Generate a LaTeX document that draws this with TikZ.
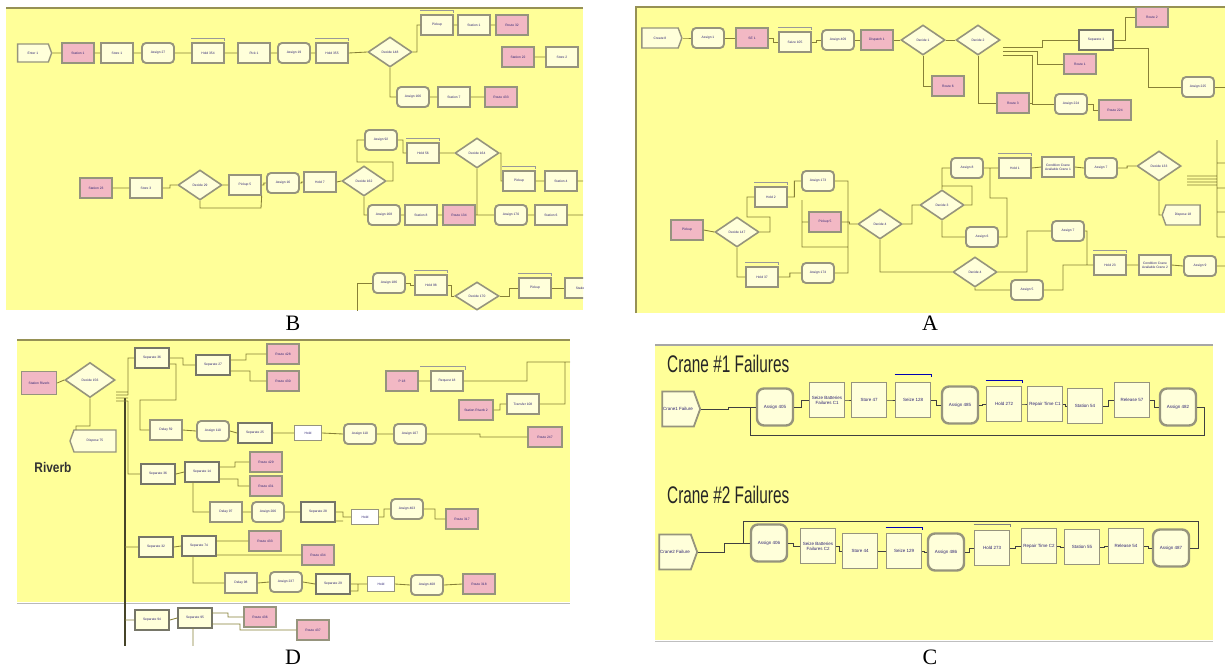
\documentclass[tikz,border=0pt]{standalone}
\usepackage{fontspec}
\setmainfont{Liberation Sans}
\newfontfamily\lserif{Liberation Serif}
\usetikzlibrary{shapes.geometric,shapes.symbols,calc}
\definecolor{bgY}{RGB}{255,255,153}
\definecolor{cream}{RGB}{255,255,218}
\definecolor{pinkM}{RGB}{242,184,196}
\definecolor{edgeG}{RGB}{150,148,125}
\definecolor{sepG}{RGB}{118,118,104}
\definecolor{wireC}{RGB}{135,128,55}
\definecolor{txtB}{RGB}{45,35,115}
\definecolor{frameO}{RGB}{150,145,85}
\definecolor{heavyC}{RGB}{70,68,40}
\newcommand{\holdbar}[3][gray!80]{\draw[#1, line width=0.7pt] ([yshift=#3]#2.north west) -- ([yshift=#3]#2.north east) -- ++(0,-2.5pt);}
\tikzset{
  mod/.style={draw=edgeG, line width=1.4pt, fill=cream, text=txtB, font=\fontsize{3.3}{3.8}\selectfont, inner sep=0.5pt, align=center, minimum width=32pt, minimum height=20pt},
  box/.style={mod, rectangle},
  pbox/.style={mod, rectangle, fill=pinkM},
  wbox/.style={mod, rectangle, fill=white, minimum width=27pt, minimum height=15pt},
  asg/.style={mod, rectangle, rounded corners=4pt, line width=1.9pt},
  sepb/.style={mod, rectangle, line width=1.9pt, draw=sepG, minimum width=34pt},
  dec/.style={mod, diamond, minimum width=44pt, minimum height=30pt, line width=1.6pt, inner sep=0pt},
  crt/.style={mod, signal, signal to=east, signal pointer angle=140},
  disp/.style={mod, signal, signal to=west, signal pointer angle=140},
  boxC/.style={box, minimum width=35pt, minimum height=35pt, line width=1.8pt, font=\fontsize{4.5}{5}\selectfont},
  asgC/.style={asg, minimum width=36pt, minimum height=37pt, rounded corners=7pt, line width=2.4pt, font=\fontsize{4.5}{5}\selectfont},
  wire/.style={draw=wireC, line width=0.85pt},
  stepto/.style={to path={-| ($(\tikztostart)!.5!(\tikztotarget)$) |- (\tikztotarget)}},
  plabel/.style={font=\lserif\fontsize{22}{22}\selectfont, text=black}
}
\begin{document}
\begin{tikzpicture}[x=1pt,y=-1pt]
\useasboundingbox (0,0) rectangle (1225,670);
\fill[white] (0,0) rectangle (1225,670);

% ================= Panel B =================
\fill[bgY] (6,8) rectangle (583,310);
\draw[frameO, line width=1.3pt] (6,8) -- (583,8);
\begin{scope}
\clip (6,8) rectangle (583,310);
\node[crt, minimum width=34pt, minimum height=18pt] (b1) at (33,53) {Enter 1};
\node[pbox] (b2) at (78,53) {Station 1};
\node[box] (b3) at (117,53) {Store 1};
\node[asg] (b4) at (158,53) {Assign 27};
\node[box] (b5) at (208,53) {Hold 354};
\node[box] (b6) at (254,53) {Pick 1};
\node[asg] (b7) at (294,53) {Assign 19};
\node[box] (b8) at (332,53) {Hold 355};
\node[dec] (b9) at (390,52) {Decide 148};
\node[box] (b10) at (437,25) {Pickup};
\node[box] (b11) at (474,25) {Station 1};
\node[pbox] (b12) at (512,25) {Route 32};
\node[pbox] (b13) at (518,57) {Station 22};
\node[box] (b14) at (562,57) {Store 2};
\node[asg] (b15) at (413,97) {Assign 166};
\node[box] (b16) at (454,97) {Station 7};
\node[pbox] (b17) at (501,97) {Route 433};
\holdbar{b5}{3.5pt} \holdbar{b8}{3.5pt} \holdbar{b10}{3.5pt}
\draw[wire] (b1.east)--(b2.west) (b2.east)--(b3.west) (b3.east)--(b4.west) (b4.east)--(b5.west)
  (b5.east)--(b6.west) (b6.east)--(b7.west) (b7.east)--(b8.west) (b8.east)--(b9.west)
  (b9.east) -- (417,52) |- (b10.west) (b10.east)--(b11.west) (b11.east)--(b12.west) (b13.east)--(b14.west)
  (b9.south) |- (b15.west) (b15.east) to[stepto] (b16.west) (b16.east) to[stepto] (b17.west);

\node[pbox] (b20) at (96,188) {Station 23};
\node[box] (b21) at (146,188) {Store 3};
\node[dec] (b22) at (200,185) {Decide 29};
\node[box] (b23) at (245,185) {Pickup 5};
\node[asg] (b24) at (283,183) {Assign 16};
\node[box] (b25) at (320,182) {Hold 7};
\node[dec] (b26) at (364,181) {Decide 162};
\node[asg] (b27) at (381,140) {Assign 92};
\node[box] (b28) at (423,153) {Hold 56};
\node[dec] (b29) at (477,153) {Decide 164};
\node[box] (b30) at (519,181) {Pickup};
\node[box] (b31) at (561,181) {Station 4};
\node[asg] (b32) at (384,215) {Assign 168};
\node[box] (b33) at (421,215) {Station 8};
\node[pbox] (b34) at (459,215) {Route 134};
\node[asg] (b35) at (511,215) {Assign 170};
\node[box] (b36) at (551,215) {Station 6};
\holdbar{b28}{3.5pt} \holdbar{b30}{3.5pt}
\draw[wire] (b20.east)--(b21.west) (b21.east) to[stepto] (b22.west) (b22.east)--(b23.west)
  (b23.east) to[stepto] (b24.west) (b22.south) |- (261,208) -- (b23.south east)
  (b24.east) to[stepto] (b25.west) (b25.east)--(b26.west)
  (b26.east) -- (393,181) -- (393,162) -- (357,162) |- (b27.west)
  (b27.east) -- (403,140) |- (b28.west) (b28.east)--(b29.west)
  (b29.east) -- (501,153) |- (b30.west) (b30.east)--(b31.west) (b31.east)--(590,181)
  (b26.south) |- (b32.west) (b32.east)--(b33.west) (b33.east)--(b34.west) (b34.east)--(b35.west)
  (b35.east)--(b36.west) (b36.east)--(590,215) (b29.south) -- (477,215);

\node[asg] (b40) at (389,283) {Assign 186};
\node[box] (b41) at (431,285) {Hold 98};
\node[dec, minimum height=28pt] (b42) at (477,296) {Decide 170};
\node[box] (b43) at (535,288) {Pickup};
\node[box] (b44) at (581,288) {Station};
\holdbar{b41}{3.5pt} \holdbar{b43}{3.5pt}
\draw[wire] (b40.west) -- (357,283) -- (357,315) (b40.east) to[stepto] (b41.west)
  (b41.east) to[stepto] (b42.west) (b42.east) to[stepto] (b43.west) (b43.east) -- (b44.west);
\end{scope}

% ================= Panel A =================
\fill[bgY] (636,7) rectangle (1225,313);
\draw[frameO, line width=1.3pt] (636,313) -- (636,7) -- (1225,7);
\begin{scope}
\clip (636,7) rectangle (1225,313);
\node[crt, minimum width=40pt] (a1) at (660,38) {Create 8};
\node[asg] (a2) at (708,38) {Assign 1};
\node[pbox] (a3) at (752,38) {SE 1};
\node[box] (a4) at (795,42) {Seize 105};
\node[asg] (a5) at (838,40) {Assign 409};
\node[pbox] (a6) at (877,40) {Dispatch 1};
\node[dec] (a7) at (923,40) {Decide 1};
\node[dec] (a8) at (978,40) {Decide 2};
\node[pbox] (a9) at (948,86) {Route 6};
\node[pbox] (a10) at (1152,17) {Route 2};
\node[sepb] (a11) at (1096,40) {Separate 1};
\node[pbox] (a12) at (1080,64) {Route 1};
\node[pbox] (a13) at (1013,103) {Route 3};
\node[asg] (a14) at (1071,104) {Assign 224};
\node[pbox] (a15) at (1115,110) {Route 224};
\node[asg] (a16) at (1198,87) {Assign 225};
\holdbar{a4}{3.5pt}
\draw[wire] (a1.east) to[stepto] (a2.west) (a2.east)--(a3.west) (a3.east) to[stepto] (a4.west)
  (a4.east) to[stepto] (a5.west) (a5.east)--(a6.west) (a6.east)--(a7.west) (a7.east)--(a8.west)
  (a7.south) |- (a9.west) (a8.south) |- (a13.west)
  (1003,47) -| (1042,40) -- (a11.west)
  (1003,51) -| (1037,64) -- (a12.west)
  (1003,55) -| (1032,104) -- (a14.west) (a13.east) -- (1032,103)
  (a11.east) -- (1125,40) |- (a10.west)
  (1114,48) -- (1148,48) |- (a16.west)
  (a14.east) to[stepto] (a15.west) (a16.east) -- (1230,87);

\node[pbox] (a20) at (687,230) {Pickup};
\node[dec] (a21) at (737,232) {Decide 147};
\node[box] (a22) at (771,197) {Hold 2};
\node[asg] (a23) at (818,181) {Assign 173};
\node[pbox] (a24) at (825,222) {Pickup 5};
\node[box] (a25) at (762,277) {Hold 37};
\node[asg] (a26) at (818,273) {Assign 174};
\node[dec] (a27) at (880,224) {Decide 4};
\holdbar{a22}{3.5pt} \holdbar{a25}{3.5pt}
\node[dec] (a28) at (942,205) {Decide 3};
\node[asg] (a29) at (967,168) {Assign 8};
\node[box] (a30) at (1015,168) {Hold 1};
\node[box] (a31) at (1058,167) {Condition Crane\\Available Crane 1};
\node[asg] (a32) at (1101,168) {Assign 7};
\node[dec] (a33) at (1159,166) {Decide 133};
\node[disp, minimum width=38pt] (a34) at (1183,215) {Dispose 18};
\node[asg] (a35) at (982,237) {Assign 6};
\node[dec] (a36) at (975,272) {Decide 4};
\node[asg] (a37) at (1068,231) {Assign 7};
\node[asg] (a38) at (1027,290) {Assign 5};
\node[box] (a39) at (1110,265) {Hold 23};
\node[box] (a40) at (1155,265) {Condition Crane\\Available Crane 2};
\node[asg] (a41) at (1200,266) {Assign 9};
\holdbar{a30}{3.5pt} \holdbar{a39}{3.5pt}
\draw[wire] (a20.east)--(a21.west)
  (a21.east) -- (770,232) -- (770,217) -- (747,217) |- (a22.west)
  (a22.east) to[stepto] (a23.west)
  (a23.east) -- (848,181) -- (848,247) -- (802,247) |- (a24.west) (802,200) -- (802,222)
  (a21.south) |- (a25.west) (a25.east) to[stepto] (a26.west) (a26.east) -- (848,273) -- (848,247)
  (a24.east) to[stepto] (a27.west)
  (a27.east) -- (912,224) |- (a28.west)
  (a28.north) |- (a29.west) (a28.east) -- (972,205) |- (942,186)
  (a28.south) |- (a35.west)
  (a35.east) -- (1007,237) -- (1007,198) -- (990,198) -- (990,168)
  (a29.east)--(a30.west) (a30.east)--(a31.west) (a31.east)--(a32.west) (a32.east) to[stepto] (a33.west)
  (a33.south) |- (a34.west)
  (1187,176)--(1217,176) (1187,179)--(1217,179) (1187,182)--(1217,182) (1187,185)--(1217,185)
  (1217,140)--(1217,237) (1217,163)--(1226,163) (1217,188)--(1226,188) (1217,212)--(1226,212) (1217,237)--(1226,237)
  (a27.south) |- (a36.west)
  (a36.east) -- (1027,272) |- (a37.west)
  (a36.south) |- (a38.west)
  (a38.east) -- (1063,290) |- (a39.west)
  (a37.east) -- (1087,231) -- (1087,265)
  (a39.east)--(a40.west) (a40.east)--(a41.west) (a41.east)--(1230,266);
\end{scope}

% ================= Panel D =================
\fill[bgY] (17,340) rectangle (570,602);
\draw[frameO, line width=1.3pt] (17,340) -- (570,340);
\draw[gray!55, line width=0.8pt] (17,603) -- (570,603);
\begin{scope}
\clip (0,338) rectangle (570,645);
\node[pbox, minimum width=35pt, minimum height=23pt] (d1) at (39,383) {Station Riverb};
\node[dec, minimum width=50pt, minimum height=35pt] (d2) at (90,380) {Decide 156};
\node[disp, minimum width=46pt, minimum height=22pt] (d3) at (95,441) {Dispose 75};
\node[font=\bfseries\fontsize{14}{14}\selectfont, text=black!80] (riv) at (53,467) {\scalebox{0.85}[1]{Riverb}};
\node[sepb] (d4) at (152,358) {Separate 36};
\node[sepb] (d5) at (213,365) {Separate 27};
\node[pbox] (d6) at (283,354) {Route 428};
\node[pbox] (d7) at (283,381) {Route 430};
\node[box] (d8) at (166,430) {Delay 59};
\node[asg] (d9) at (213,431) {Assign 110};
\node[sepb] (d10) at (255,433) {Separate 25};
\node[wbox] (d11) at (308,433) {Hold};
\node[asg] (d12) at (360,434) {Assign 110};
\node[asg] (d13) at (410,434) {Assign 107};
\node[pbox, minimum width=34pt] (d14) at (545,437) {Route 247};
\node[pbox] (d15) at (402,381) {P 18};
\node[box] (d16) at (447,381) {Request 18};
\node[pbox, minimum width=34pt] (d17) at (476,410) {Station Riverb 2};
\node[box] (d18) at (523,404) {Transfer 108};
\node[sepb] (d19) at (158,474) {Separate 36};
\node[sepb] (d20) at (202,472) {Separate 14};
\node[pbox] (d21) at (266,462) {Route 429};
\node[pbox] (d22) at (266,486) {Route 431};
\node[box] (d23) at (226,512) {Delay 97};
\node[asg] (d24) at (268,512) {Assign 206};
\node[sepb] (d25) at (318,512) {Separate 28};
\node[wbox] (d26) at (365,517) {Hold};
\node[asg] (d27) at (407,509) {Assign 403};
\node[pbox] (d28) at (462,519) {Route 317};
\node[sepb] (d29) at (156,547) {Separate 32};
\node[sepb] (d30) at (199,546) {Separate 74};
\node[pbox] (d31) at (265,541) {Route 433};
\node[pbox] (d32) at (318,555) {Route 434};
\node[box] (d33) at (241,583) {Delay 98};
\node[asg] (d34) at (286,582) {Assign 237};
\node[sepb] (d35) at (333,584) {Separate 29};
\node[wbox] (d36) at (381,584) {Hold};
\node[asg] (d37) at (427,585) {Assign 408};
\node[pbox] (d38) at (479,584) {Route 318};
\node[sepb] (d39) at (152,620) {Separate 94};
\node[sepb] (d40) at (195,618) {Separate 95};
\node[pbox] (d41) at (260,617) {Route 436};
\node[pbox] (d42) at (313,630) {Route 437};
\draw[gray!80, line width=0.7pt] (420,366) -- (465,366) -- (465,370);
\draw[heavyC, line width=1.7pt] (125,398) -- (125,648);
\draw[wire] (d1.east)--(d2.west)
  (d2.south) -- (90,426) -- (76,426) -- (76,430)
  (116,392)--(128,392) (116,395)--(128,395) (116,398)--(128,398) (116,401)--(128,401)
  (128,395) |- (d4.west) (128,401) |- (d19.west)
  (125,547) -- (d29.west) (125,620) -- (d39.west)
  (d4.east) -- (183,358) |- (d5.west)
  (169,364) -- (176,364) -- (176,400) -- (140,400) |- (d8.west)
  (230,360) -- (246,360) |- (d6.west) (230,371) -- (250,371) |- (d7.west)
  (d8.east)--(d9.west) (d9.east)--(d10.west) (d10.east)--(d11.west) (d11.east)--(d12.west)
  (d12.east)--(d13.west) (d13.east) -- (480,434) -- (480,437) -- (d14.west)
  (d15.east)--(d16.west) (d16.east) -- (527,381) -- (527,362) -- (575,362)
  (d17.east) to[stepto] (d18.west) (d18.east) -- (565,404) -- (565,362)
  (d19.east)--(d20.west)
  (219,467) -- (235,467) |- (d21.west) (219,479) -- (238,479) |- (d22.west)
  (193,482) |- (d23.west)
  (d23.east)--(d24.west) (d24.east)--(d25.west) (d25.east) -- (343,512) |- (d26.west) (335,521) -- (343,521)
  (d26.east) -- (384,517) |- (d27.west) (d27.east) -- (435,509) |- (d28.west)
  (d29.east)--(d30.west) (216,541) -- (d31.west) (216,555) -- (d32.west)
  (193,556) |- (d33.west)
  (d33.east)--(d34.west) (d34.east)--(d35.west) (d35.east)--(d36.west) (350,591) -- (358,591) -- (358,584)
  (d36.east)--(d37.west) (d37.east)--(d38.west)
  (d39.east)--(d40.west) (212,613) -- (228,613) |- (d41.west) (212,624) -- (240,624) |- (d42.west)
  (193,628) -- (193,650);
\end{scope}

% ================= Panel C =================
\fill[bgY] (655,345) rectangle (1213,640);
\draw[gray!70, line width=1.4pt] (655,345) -- (1213,345);
\draw[gray!50, line width=1pt] (655,641) -- (1213,641);
\node[anchor=base west, font=\fontsize{24}{24}\selectfont, text=black!85, inner sep=0pt] (t1) at (667,372) {\scalebox{0.64}[1]{Crane \#1 Failures}};
\node[anchor=base west, font=\fontsize{24}{24}\selectfont, text=black!85, inner sep=0pt] (t2) at (667,503) {\scalebox{0.64}[1]{Crane \#2 Failures}};

\node[crt, minimum width=38pt, minimum height=35pt, line width=1.8pt, font=\fontsize{4.5}{5}\selectfont] (c1) at (678,409) {Crane1 Failure};
\node[asgC] (c2) at (775,407) {Assign 405};
\node[boxC] (c3) at (827,400) {Seize Batteries\\Failures C1};
\node[boxC] (c4) at (869,400) {Store 47};
\node[boxC] (c5) at (913,400) {Seize 128};
\node[asgC] (c6) at (960,405) {Assign 485};
\node[boxC] (c7) at (1004,404) {Hold 272};
\node[boxC] (c8) at (1045,404) {Repair Time C1};
\node[boxC] (c9) at (1085,406) {Station 54};
\node[boxC] (c10) at (1132,400) {Release 57};
\node[asgC] (c11) at (1178,407) {Assign 482};
\holdbar[blue!70!black]{c5}{7.5pt} \holdbar[blue!70!black]{c7}{5.5pt}
\draw[wire, draw=black!75] (c1.east) -- (728,409) -- (728,407) -- (c2.west)
  (c11.east) -- (1204,407) -- (1204,435) -- (750,435) -- (750,407)
  (c2.east) to[stepto] (c3.west) (c3.east) to[stepto] (c4.west) (c4.east) to[stepto] (c5.west)
  (c5.east) to[stepto] (c6.west) (c6.east) to[stepto] (c7.west) (c7.east) to[stepto] (c8.west)
  (c8.east) to[stepto] (c9.west) (c9.east) to[stepto] (c10.west) (c10.east) to[stepto] (c11.west);

\node[crt, minimum width=38pt, minimum height=35pt, line width=1.8pt, font=\fontsize{4.5}{5}\selectfont] (c20) at (675,552) {Crane2 Failure};
\node[asgC] (c21) at (769,543) {Assign 406};
\node[boxC] (c22) at (818,546) {Seize Batteries\\Failures C2};
\node[boxC] (c23) at (860,551) {Store 44};
\node[boxC] (c24) at (904,551) {Seize 129};
\node[asgC] (c25) at (946,552) {Assign 486};
\node[boxC] (c26) at (992,548) {Hold 273};
\node[boxC] (c27) at (1039,546) {Repair Time C2};
\node[boxC] (c28) at (1082,547) {Station 55};
\node[boxC] (c29) at (1126,546) {Release 54};
\node[asgC] (c30) at (1171,548) {Assign 487};
\holdbar[blue!70!black]{c24}{5.5pt} \holdbar[gray]{c26}{5.5pt}
\draw[wire, draw=black!75] (c20.east) -- (724,552) -- (724,543) -- (c21.west)
  (c30.east) -- (1198,548) -- (1198,521) -- (743,521) -- (743,543)
  (c21.east) to[stepto] (c22.west) (c22.east) to[stepto] (c23.west) (c23.east) to[stepto] (c24.west)
  (c24.east) to[stepto] (c25.west) (c25.east) to[stepto] (c26.west) (c26.east) to[stepto] (c27.west)
  (c27.east) to[stepto] (c28.west) (c28.east) to[stepto] (c29.west) (c29.east) to[stepto] (c30.west);

% ================= Panel labels =================
\node[plabel] (lB) at (293,323) {B};
\node[plabel] (lA) at (930,323) {A};
\node[plabel] (lD) at (293,657) {D};
\node[plabel] (lC) at (930,657) {C};
\end{tikzpicture}
\end{document}
